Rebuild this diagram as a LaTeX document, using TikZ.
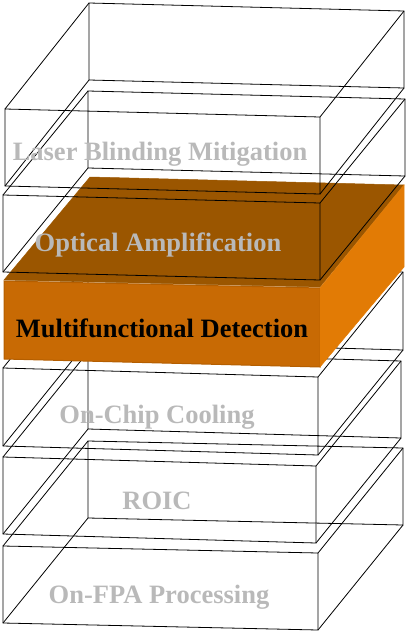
\documentclass[tikz,border=0pt]{standalone}
\usepackage{fontspec}
\setmainfont{Liberation Serif}
\definecolor{otop}{RGB}{155,86,0}
\definecolor{ofront}{RGB}{200,106,4}
\definecolor{oright}{RGB}{226,123,5}
\definecolor{oedge}{RGB}{180,94,0}
\definecolor{lbl}{RGB}{185,185,185}
\newcommand\wireBox[7]{%
  \draw[wire] (#1,#2) -- (#3,#4) -- (#3,#4+#5) -- (#1,#2+#5) -- cycle;
  \draw[wire] (#1+#6,#2+#7) -- (#3+#6,#4+#7) -- (#3+#6,#4+#5+#7) -- (#1+#6,#2+#5+#7) -- cycle;
  \draw[wire] (#1,#2) -- (#1+#6,#2+#7);
  \draw[wire] (#3,#4) -- (#3+#6,#4+#7);
  \draw[wire] (#3,#4+#5) -- (#3+#6,#4+#5+#7);
  \draw[wire] (#1,#2+#5) -- (#1+#6,#2+#5+#7);
}
\begin{document}
\begin{tikzpicture}[x=1pt,y=-1pt,
  wire/.style={draw=black,line width=0.8pt,line join=miter},
  lab/.style={anchor=base,inner sep=0pt,font=\fontsize{26.5}{30}\selectfont\bfseries,text=lbl},
  labdark/.style={lab,text=black}]
\useasboundingbox (0,0) rectangle (406,632);
% boxes below the orange layer
\wireBox{3}{368}{318}{377}{78}{85}{-105}
\wireBox{3}{457}{316}{466}{77}{85}{-105}
\wireBox{3}{546}{318}{553}{77}{85}{-105}
% orange layer
\fill[otop,draw=otop,line width=0.5pt] (4,280) -- (90,177) -- (404,185) -- (320,287) -- cycle;
\fill[ofront,draw=oedge,line width=1pt] (4,281) -- (320,288) -- (320,367) -- (4,359) -- cycle;
\fill[oright,draw=oright,line width=0.5pt] (320,288) -- (404,185) -- (404,267) -- (320,367) -- cycle;
% boxes above the orange layer
\wireBox{5}{109}{320}{117}{77}{84}{-106}
\wireBox{3}{195}{320}{203}{77}{85}{-104}
% labels
\node[lab] (l1) at (160,160.5) {Laser Blinding Mitigation};
\node[lab] (l2) at (158,251) {Optical Amplification};
\node[labdark] (l3) at (162,337) {Multifunctional Detection};
\node[lab] (l4) at (157,423) {On-Chip Cooling};
\node[lab] (l5) at (157,509) {ROIC};
\node[lab] (l6) at (159,603) {On-FPA Processing};
\end{tikzpicture}
\end{document}
